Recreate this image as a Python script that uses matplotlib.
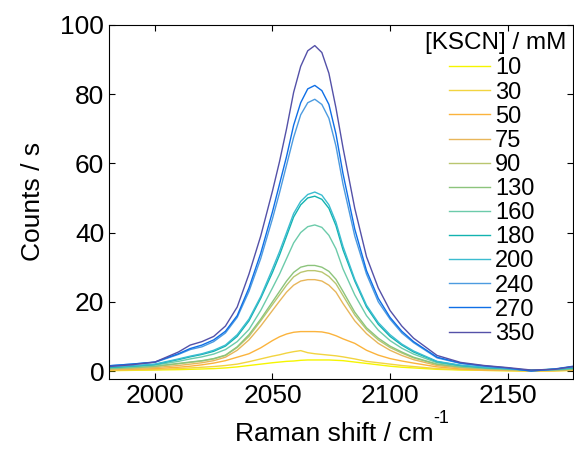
import matplotlib
matplotlib.use("Agg")
import matplotlib.pyplot as plt

plt.rcParams['font.family'] = ['Liberation Sans', 'DejaVu Sans']

# Raman shift grid (cm-1)
shift = [1980, 1990, 2000, 2010, 2015, 2020, 2025, 2030, 2035, 2040, 2045, 2050, 2053, 2056, 2059,
         2062, 2065, 2068, 2071, 2074, 2077, 2080, 2085, 2090, 2095, 2100, 2105, 2110, 2120, 2130,
         2140, 2150, 2160, 2170, 2178]

conc = ['10', '30', '50', '75', '90', '130', '160', '180', '200', '240', '270', '350']

c10 = [0.1, 0.2, 0.3, 0.4, 0.5, 0.6, 0.7, 0.9, 1.2, 1.6, 2.0, 2.4, 2.6, 2.8, 2.9, 3.1, 3.2, 3.2,
       3.2, 3.2, 3.1, 3.0, 2.6, 2.2, 1.8, 1.4, 1.1, 0.9, 0.5, 0.3, 0.2, 0.1, 0.0, 0.1, 0.2]
c30 = [0.2, 0.3, 0.4, 0.7, 0.9, 1.1, 1.3, 1.6, 2.0, 2.7, 3.5, 4.3, 4.7, 5.2, 5.6, 5.9, 5.3, 5.0,
       4.8, 4.6, 4.4, 4.1, 3.5, 2.8, 2.4, 2.0, 1.6, 1.3, 0.7, 0.4, 0.2, 0.1, 0.0, 0.1, 0.2]
c50 = [0.3, 0.5, 0.7, 1.1, 1.4, 1.8, 2.3, 3.0, 4.0, 5.0, 6.7, 8.8, 9.9, 10.7, 11.2, 11.4, 11.4,
       11.4, 11.3, 10.9, 10.2, 9.3, 8.0, 6.0, 4.6, 3.6, 2.9, 2.3, 1.2, 0.6, 0.3, 0.2, 0.1, 0.1, 0.3]
c75 = [0.4, 0.7, 1.0, 1.6, 2.0, 2.4, 3.0, 4.0, 6.0, 9.0, 13, 17.5, 20.2, 22.8, 24.8, 26, 26.4,
       26.4, 26, 24.8, 22.8, 19.5, 14.5, 10.8, 8.0, 6.0, 4.5, 3.3, 1.6, 0.9, 0.5, 0.3, 0.2, 0.2, 0.4]
c90 = [0.6, 0.9, 1.3, 2.1, 2.5, 2.9, 3.5, 4.5, 6.8, 10, 14.5, 19.2, 22, 24.8, 27.2, 28.5, 29, 29,
       28.6, 27.3, 25.2, 21.8, 16.2, 12, 9, 6.8, 5.2, 3.8, 1.9, 1.1, 0.7, 0.4, 0.3, 0.3, 0.5]
c130 = [0.7, 1.0, 1.4, 2.2, 2.6, 3.0, 3.6, 4.6, 7.0, 10.5, 15, 20, 23, 26, 28.5, 30, 30.5, 30.5,
        30, 28.8, 26.5, 23, 17, 12.5, 9.5, 7.2, 5.5, 4.0, 2.0, 1.2, 0.8, 0.5, 0.3, 0.3, 0.6]
c160 = [0.9, 1.2, 1.7, 2.8, 3.5, 4.1, 4.9, 6.2, 8.5, 12, 17.5, 24, 28, 32.5, 37, 40, 41.7, 42.2,
        41.5, 39.2, 35.3, 29.5, 22, 16, 11.8, 8.8, 6.6, 4.9, 2.4, 1.4, 0.9, 0.6, 0.2, 0.4, 0.8]
c180 = [1.0, 1.4, 1.9, 3.3, 4.1, 4.8, 5.7, 7.2, 10, 14.5, 21, 28.5, 33.5, 39, 44.5, 48, 50, 50.5,
        49.6, 47, 42, 35, 26, 18.5, 13.5, 10, 7.5, 5.5, 2.7, 1.6, 1.0, 0.7, 0.2, 0.5, 0.9]
c200 = [1.2, 1.5, 2.0, 3.5, 4.3, 5.0, 6.0, 7.5, 10.5, 15, 21.5, 29.5, 34.5, 40, 45.5, 49, 51, 51.7,
        50.8, 48, 43, 36, 26.5, 19, 14, 10.5, 7.8, 5.8, 2.8, 1.7, 1.1, 0.8, 0.2, 0.6, 1.0]
c240 = [1.5, 2.0, 2.5, 4.8, 6.2, 7.0, 8.5, 11, 15.5, 23, 32.5, 44, 51.5, 59.5, 67.5, 74, 77.5, 78.5,
        77, 73, 65, 54, 39, 28, 20, 15, 11, 8.2, 3.8, 2.2, 1.4, 0.8, 0.0, 0.5, 1.3]
c270 = [1.5, 2.0, 2.6, 5.0, 6.5, 7.5, 9, 11.5, 16, 24, 34, 46, 54, 62, 71, 77.5, 81.5, 82.5, 81,
        77, 68.5, 57, 41, 29, 21, 15.5, 11.5, 8.5, 4.0, 2.3, 1.5, 0.9, 0.0, 0.6, 1.4]
c350 = [1.3, 1.8, 2.6, 5.5, 7.5, 8.5, 10, 13, 18.5, 28, 39, 52, 60.5, 70, 80.5, 88, 92.5, 94, 92,
        86, 76, 64.5, 47, 33, 24, 17.5, 13, 9.5, 4.5, 2.5, 1.6, 1.0, 0.3, 0.5, 1.3]

spectra = [c10, c30, c50, c75, c90, c130, c160, c180, c200, c240, c270, c350]
colors = ['#f5f500', '#f2d440', '#fbb33c', '#e8b65a', '#b9c66f', '#8cc47c',
          '#6ccbaa', '#13b3b0', '#3bbcd0', '#4c9be0', '#0f6fe6', '#5451a8']

fig = plt.figure(figsize=(5.74, 4.63), dpi=100)
ax = fig.add_axes([0.19, 0.1814, 0.809, 0.765])

for lab, y, col in zip(conc, spectra, colors):
    ax.plot(shift, y, color=col, lw=1.0, label=lab)

ax.set_xlim(1980.5, 2178)
ax.set_ylim(-2.3, 100)
ax.set_xticks([2000, 2050, 2100, 2150])
ax.set_yticks([0, 20, 40, 60, 80, 100])
ax.tick_params(direction='in', top=True, right=True, labelsize=19, length=4, width=0.8)
for s in ax.spines.values():
    s.set_linewidth(0.8)

ax.set_xlabel('Raman shift / cm', fontsize=19, labelpad=10)
ax.xaxis.label.set_x(0.485)
ax.set_ylabel('Counts / s', fontsize=19, labelpad=11)
# superscript "-1" hung on the x label
ax.annotate('-1', xy=(1.0, 0.78), xycoords=ax.xaxis.label, ha='left', va='bottom',
            fontsize=13)

ax.legend(loc='upper left', bbox_to_anchor=(0.782, 0.876), bbox_transform=fig.transFigure,
          frameon=False, fontsize=17, handlelength=1.75, handletextpad=0.2,
          labelspacing=0.09, borderaxespad=0, borderpad=0)
fig.text(0.986, 0.907, '[KSCN] / mM', ha='right', va='center', fontsize=17.5)

fig.savefig('out.png', dpi=100)
